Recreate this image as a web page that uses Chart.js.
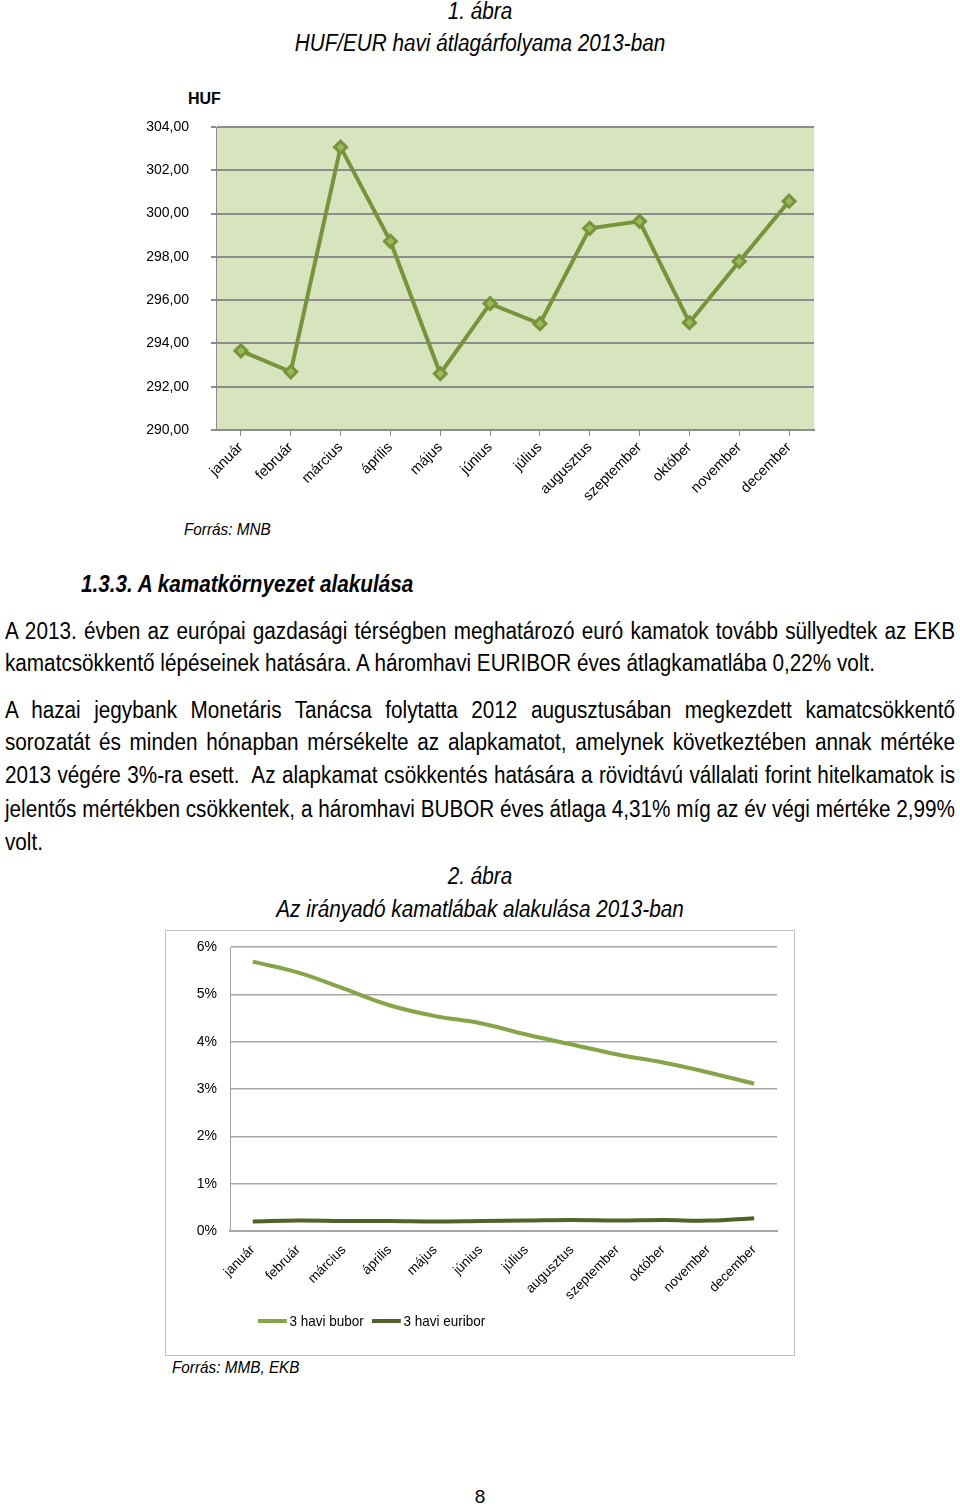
<!DOCTYPE html>
<html lang="hu">
<head>
<meta charset="utf-8">
<script src="https://cdn.jsdelivr.net/npm/chart.js@4/dist/chart.umd.min.js"></script>
<style>
  :root { --f: 0.82; }
  body { margin: 0; background: #fff; width: 960px; height: 1509px; position: relative; overflow: hidden;
         font-family: "Liberation Sans", Arial, sans-serif; color: #000; }
  .abs { position: absolute; white-space: nowrap; }
  .szuk { transform: scaleX(var(--f)); transform-origin: 0 0; }
  .cim { left: 0; width: 960px; text-align: center; font-style: italic; font-size: 23px; transform-origin: 480px 0; }
  .sor { position: absolute; left: 5px; width: calc(950px / var(--f)); font-size: 23px; text-align: justify; text-align-last: justify; white-space: nowrap; }
  .sor.utolso { text-align-last: left; }
  .forras { font-style: italic; font-size: 17px; }
  #box2 { position: absolute; left: 165px; top: 930px; width: 628px; height: 424px; border: 1px solid #bfbfbf; }
  .leg { position: absolute; top: 1312px; font-size: 15px; }
  .leg i { display: inline-block; width: 32px; height: 4px; vertical-align: middle; margin-right: 3px; position: relative; top: -1px; }
</style>
</head>
<body>
<div class="abs cim szuk" style="top:-2px">1. ábra</div>
<div class="abs cim szuk" style="top:30px">HUF/EUR havi átlagárfolyama 2013-ban</div>
<div class="abs" style="left:188px;top:90px;font-weight:bold;font-size:16px">HUF</div>
<div class="abs" style="left:130px;top:100px;width:700px;height:420px"><canvas id="arfolyamChart"></canvas></div>
<div class="abs forras szuk" style="left:184px;top:520px">Forrás: MNB</div>

<div class="abs szuk" style="left:81px;top:571px;font-size:23px;font-weight:bold;font-style:italic">1.3.3. A kamatkörnyezet alakulása</div>

<div class="sor szuk" style="top:618px">A 2013. évben az európai gazdasági térségben meghatározó euró kamatok tovább süllyedtek az EKB</div>
<div class="sor szuk utolso" style="top:650px">kamatcsökkentő lépéseinek hatására. A háromhavi EURIBOR éves átlagkamatlába 0,22% volt.</div>

<div class="sor szuk" style="top:697px">A hazai jegybank Monetáris Tanácsa folytatta 2012 augusztusában megkezdett kamatcsökkentő</div>
<div class="sor szuk" style="top:729px">sorozatát és minden hónapban mérsékelte az alapkamatot, amelynek következtében annak mértéke</div>
<div class="sor szuk" style="top:762px">2013 végére 3%-ra esett.&nbsp; Az alapkamat csökkentés hatására a rövidtávú vállalati forint hitelkamatok is</div>
<div class="sor szuk" style="top:796px">jelentős mértékben csökkentek, a háromhavi BUBOR éves átlaga 4,31% míg az év végi mértéke 2,99%</div>
<div class="sor szuk utolso" style="top:829px">volt.</div>

<div class="abs cim szuk" style="top:863px">2. ábra</div>
<div class="abs cim szuk" style="top:896px">Az irányadó kamatlábak alakulása 2013-ban</div>
<div id="box2"></div>
<div class="abs" style="left:166px;top:931px;width:628px;height:424px"><canvas id="kamatChart"></canvas></div>
<div id="legenda"></div>
<div class="abs forras szuk" style="left:172px;top:1358px">Forrás: MMB, EKB</div>

<div class="abs" style="left:0;width:960px;text-align:center;top:1486px;font-size:19px">8</div>

<script>
// Adatok
const honapok = ['január', 'február', 'március', 'április', 'május', 'június',
                 'július', 'augusztus', 'szeptember', 'október', 'november', 'december'];
const hufEur = [293.66, 292.69, 303.07, 298.72, 292.60, 295.84, 294.91, 299.32, 299.64, 294.96, 297.79, 300.57];
const bubor = [5.69, 5.46, 5.12, 4.77, 4.54, 4.39, 4.15, 3.94, 3.73, 3.56, 3.35, 3.11];
const euribor = [0.20, 0.22, 0.21, 0.21, 0.20, 0.21, 0.22, 0.23, 0.22, 0.23, 0.22, 0.27];
const sorozatNevek = ['3 havi bubor', '3 havi euribor'];
const sorozatSzinek = ['#85a548', '#4f6228'];

const betu = '"Liberation Sans", Arial, sans-serif';

// Arial Narrow hiányában a Liberation Sans-t nyomjuk össze vízszintesen
(function() {
    const m = document.createElement('span');
    m.style.cssText = 'position:absolute;visibility:hidden;white-space:nowrap;font:23px "Liberation Sans"';
    m.textContent = 'kamatcsökkentő lépéseinek hatására. A háromhavi EURIBOR éves átlagkamatlába 0,22% volt.';
    document.body.appendChild(m);
    const f = 870 / m.getBoundingClientRect().width;
    document.documentElement.style.setProperty('--f', f);
    m.remove();
})();

// plot háttér kitöltése
const hatter = {
    id: 'hatter',
    beforeDraw(chart, args, opts) {
        if (!opts.color) return;
        const a = chart.chartArea;
        chart.ctx.save();
        chart.ctx.fillStyle = opts.color;
        chart.ctx.fillRect(a.left, a.top, a.right - a.left, a.bottom - a.top);
        chart.ctx.restore();
    }
};

document.addEventListener('DOMContentLoaded', function() {
    // 1. ábra - HUF/EUR árfolyam
    const ctx1 = document.getElementById('arfolyamChart');
    new Chart(ctx1.getContext('2d'), {
        type: 'line',
        data: {
            labels: honapok,
            datasets: [{
                label: 'HUF/EUR',
                data: hufEur,
                borderColor: '#77933c',
                borderWidth: 4,
                pointStyle: 'rectRot',
                pointRadius: 6,
                pointBorderWidth: 3,
                pointBorderColor: '#77933c',
                pointBackgroundColor: '#9bbb59',
                tension: 0
            }]
        },
        options: {
            responsive: true,
            maintainAspectRatio: false,
            animation: false,
            layout: { padding: { top: 27, right: 16, left: 0, bottom: 0 } },
            plugins: {
                legend: { display: false },
                tooltip: { enabled: false },
                hatter: { color: '#d7e4bd' }
            },
            scales: {
                x: {
                    offset: true,
                    grid: { drawOnChartArea: false, tickLength: 6, color: '#8c8c8c' },
                    border: { color: '#8c8c8c', width: 2 },
                    ticks: { minRotation: 45, maxRotation: 45, color: '#000', font: { family: betu, size: 14.5 } },
                    afterFit: function(s) { s.height = 90; }
                },
                y: {
                    min: 290, max: 304,
                    ticks: {
                        stepSize: 2, padding: 22, color: '#000',
                        font: { family: betu, size: 14 },
                        callback: v => v.toFixed(2).replace('.', ',')
                    },
                    grid: { color: '#8c8c8c', lineWidth: 2, tickLength: 5 },
                    border: { color: '#8c8c8c' },
                    afterFit: function(s) { s.width = 86; s.paddingTop = 0; s.paddingBottom = 0; }
                }
            }
        },
        plugins: [hatter]
    });

    // 2. ábra - kamatlábak
    const ctx2 = document.getElementById('kamatChart');
    new Chart(ctx2.getContext('2d'), {
        type: 'line',
        data: {
            labels: honapok,
            datasets: [{
                label: sorozatNevek[0],
                data: bubor,
                borderColor: sorozatSzinek[0],
                backgroundColor: sorozatSzinek[0],
                borderWidth: 4,
                pointRadius: 0,
                tension: 0.4
            }, {
                label: sorozatNevek[1],
                data: euribor,
                borderColor: sorozatSzinek[1],
                backgroundColor: sorozatSzinek[1],
                borderWidth: 4,
                pointRadius: 0,
                tension: 0.4
            }]
        },
        options: {
            responsive: true,
            maintainAspectRatio: false,
            animation: false,
            layout: { padding: { top: 16, right: 17, left: 0, bottom: 0 } },
            plugins: {
                legend: { display: false },
                tooltip: { enabled: false }
            },
            scales: {
                x: {
                    offset: true,
                    grid: { display: false },
                    border: { color: '#a6a6a6', width: 2 },
                    ticks: { minRotation: 45, maxRotation: 45, color: '#000', font: { family: betu, size: 13.5 } },
                    afterFit: function(s) { s.height = 124; }
                },
                y: {
                    min: 0, max: 6,
                    ticks: {
                        stepSize: 1, padding: 13, color: '#000',
                        font: { family: betu, size: 14 },
                        callback: v => v + '%'
                    },
                    grid: { color: '#a6a6a6', lineWidth: 1.5, drawTicks: false },
                    border: { color: '#a6a6a6' },
                    afterFit: function(s) { s.width = 64; s.paddingTop = 0; s.paddingBottom = 0; }
                }
            }
        }
    });

    // jelmagyarázat a sorozatokból
    const leg = document.getElementById('legenda');
    const legX = [258, 372];
    sorozatNevek.forEach(function(nev, i) {
        const d = document.createElement('div');
        d.className = 'leg szuk';
        d.style.left = legX[i] + 'px';
        d.innerHTML = '<i style="background:' + sorozatSzinek[i] + '"></i>' + nev;
        leg.appendChild(d);
    });
});
</script>
</body>
</html>
